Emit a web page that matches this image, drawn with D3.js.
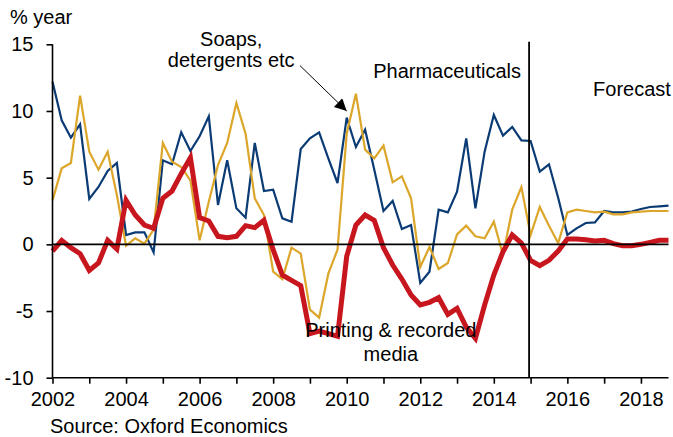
<!DOCTYPE html>
<html>
<head>
<meta charset="utf-8">
<script src="https://cdn.jsdelivr.net/npm/d3@7"></script>
<style>
  body { margin: 0; background: #fff; }
  text { font-family: "Liberation Sans", Arial, sans-serif; font-size: 20px; fill: #000; }
</style>
</head>
<body>
<script>
var width = 673,
  height = 437;

// quarterly, 2002Q1 .. 2018Q4
var startYear = 2002;
var forecastStart = 2015;
var yearTicks = [2002, 2004, 2006, 2008, 2010, 2012, 2014, 2016, 2018];
var valueTicks = [-10, -5, 0, 5, 10, 15];

var pharma = [12.2, 9.3, 8.0, 9.0, 3.4, 4.3, 5.5, 6.1, 0.7, 0.9, 0.9, -0.6,
  6.3, 6.0, 8.4, 7.0, 8.1, 9.6, 2.95, 6.3, 2.7, 2.0, 7.6, 4.0,
  4.1, 1.95, 1.7, 7.15, 7.95, 8.4, 6.45, 4.6, 9.5, 7.3, 8.6, 5.6,
  2.5, 3.25, 1.15, 1.45, -2.9, -2.05, 2.6, 2.4, 3.95, 7.95, 2.7, 6.95,
  9.7, 8.15, 8.8, 7.8, 7.75, 5.45, 6.0, 3.5, 0.7, 1.2, 1.6, 1.65,
  2.5, 2.4, 2.4, 2.45, 2.65, 2.8, 2.85, 2.9];

var soaps = [3.3, 5.7, 6.1, 11.15, 6.95, 5.6, 6.95, 3.7, -0.1, 0.45, 0.05, 1.1,
  7.6, 6.2, 5.8, 4.8, 0.3, 3.2, 5.95, 7.6, 10.6, 8.3, 3.45, 2.2,
  -2.05, -2.6, -0.25, -0.7, -4.9, -5.5, -2.2, -0.4, 8.3, 11.3, 7.1, 6.45,
  7.4, 4.65, 5.1, 3.45, -1.7, -0.2, -1.85, -1.4, 0.75, 1.4, 0.6, 0.45,
  1.7, -0.8, 2.6, 4.3, 0.7, 2.8, 1.4, 0.1, 2.4, 2.6, 2.5, 2.4,
  2.45, 2.25, 2.25, 2.4, 2.45, 2.5, 2.5, 2.5];

var printing = [-0.5, 0.3, -0.25, -0.7, -1.95, -1.4, 0.3, -0.35, 3.3, 2.2, 1.45, 1.2,
  3.45, 4.0, 5.3, 6.5, 2.0, 1.75, 0.6, 0.5, 0.6, 1.4, 1.25, 1.8,
  -0.4, -2.3, -2.7, -3.1, -6.7, -6.5, -6.7, -6.9, -0.9, 1.45, 2.2, 1.8,
  -0.25, -1.55, -2.6, -3.8, -4.55, -4.35, -4.0, -5.25, -4.8, -6.2, -7.05, -4.55,
  -2.3, -0.55, 0.7, 0.1, -1.2, -1.6, -1.2, -0.5, 0.4, 0.4, 0.35, 0.25,
  0.3, 0.05, -0.1, -0.1, 0.0, 0.15, 0.3, 0.3];

var svg = d3.select("body").append("svg")
  .attr("width", width)
  .attr("height", height);

var x = d3.scaleLinear().domain([2002, 2018.75]).range([52.5, 668.5]);
var y = d3.scaleLinear().domain([-10, 15]).range([377.7, 44.3]);

function date(i) { return startYear + i / 4; }

// series
var series = [
  { values: pharma, color: "#0b3b74", width: 2.2 },
  { values: soaps, color: "#dba62a", width: 2.2 },
  { values: printing, color: "#c8161e", width: 5 }
];

var line = d3.line()
  .x(function (d, i) { return x(date(i)); })
  .y(function (d) { return y(d); });

svg.selectAll("path.series")
  .data(series)
  .enter()
  .append("path")
  .attr("class", "series")
  .attr("d", function (d) { return line(d.values); })
  .attr("fill", "none")
  .attr("stroke", function (d) { return d.color; })
  .attr("stroke-width", function (d) { return d.width; })
  .attr("stroke-linejoin", "miter");

// axes
var yAxis = d3.axisLeft(y).tickValues(valueTicks).tickSize(6).tickPadding(13)
  .tickFormat(function (d) { return String(d); });
var gy = svg.append("g").attr("transform", "translate(" + x(2002) + ",0)").call(yAxis);

var xAxis = d3.axisBottom(x).tickValues(d3.range(2002, 2019)).tickSize(6).tickPadding(8)
  .tickFormat(function (d) { return yearTicks.indexOf(d) >= 0 ? String(d) : ""; });
var gx = svg.append("g").attr("transform", "translate(0," + y(-10) + ")").call(xAxis);

svg.selectAll(".domain, .tick line").attr("stroke", "#000").attr("stroke-width", 1.6);
svg.selectAll(".tick text").style("font-size", "20px").style("font-family", "Liberation Sans, Arial, sans-serif").attr("fill", "#000");
gy.select(".domain").attr("d", "M0," + y(15) + "V" + y(-10));
gx.select(".domain").attr("d", "M" + x(2002) + ",0H" + x(2018.75));

// zero line and forecast divider
svg.append("line")
  .attr("x1", x(2002)).attr("x2", x(2018.75))
  .attr("y1", y(0)).attr("y2", y(0))
  .attr("stroke", "#000").attr("stroke-width", 1.6);

svg.append("line")
  .attr("x1", x(forecastStart) - 1.5).attr("x2", x(forecastStart) - 1.5)
  .attr("y1", y(15.2)).attr("y2", y(-10))
  .attr("stroke", "#000").attr("stroke-width", 1.8);

// labels
svg.append("text").attr("x", 10).attr("y", 24).text("% year");
svg.append("text").attr("x", 50).attr("y", 433).text("Source: Oxford Economics");

svg.append("text").attr("x", x(2006.86)).attr("y", y(14.85)).attr("text-anchor", "middle").text("Soaps,");
svg.append("text").attr("x", x(2006.86)).attr("y", y(13.3)).attr("text-anchor", "middle").text("detergents etc");
svg.append("text").attr("x", x(2010.72)).attr("y", y(12.5)).text("Pharmaceuticals");
svg.append("text").attr("x", x(2016.7)).attr("y", y(11.1)).text("Forecast");
svg.append("text").attr("x", x(2011.2)).attr("y", y(-6.95)).attr("text-anchor", "middle").text("Printing & recorded");
svg.append("text").attr("x", x(2011.2)).attr("y", y(-8.75)).attr("text-anchor", "middle").text("media");

// arrow
svg.append("defs").append("marker")
  .attr("id", "head")
  .attr("viewBox", "0 0 10 10")
  .attr("refX", 10).attr("refY", 5)
  .attr("markerWidth", 14).attr("markerHeight", 12)
  .attr("markerUnits", "userSpaceOnUse")
  .attr("orient", "auto")
  .append("path").attr("d", "M0,0L10,5L0,10Z").attr("fill", "#000");

svg.append("line")
  .attr("x1", x(2008.73)).attr("y1", y(13.4))
  .attr("x2", x(2010.0)).attr("y2", y(10.0))
  .attr("stroke", "#000").attr("stroke-width", 1)
  .attr("marker-end", "url(#head)");
</script>
</body>
</html>
